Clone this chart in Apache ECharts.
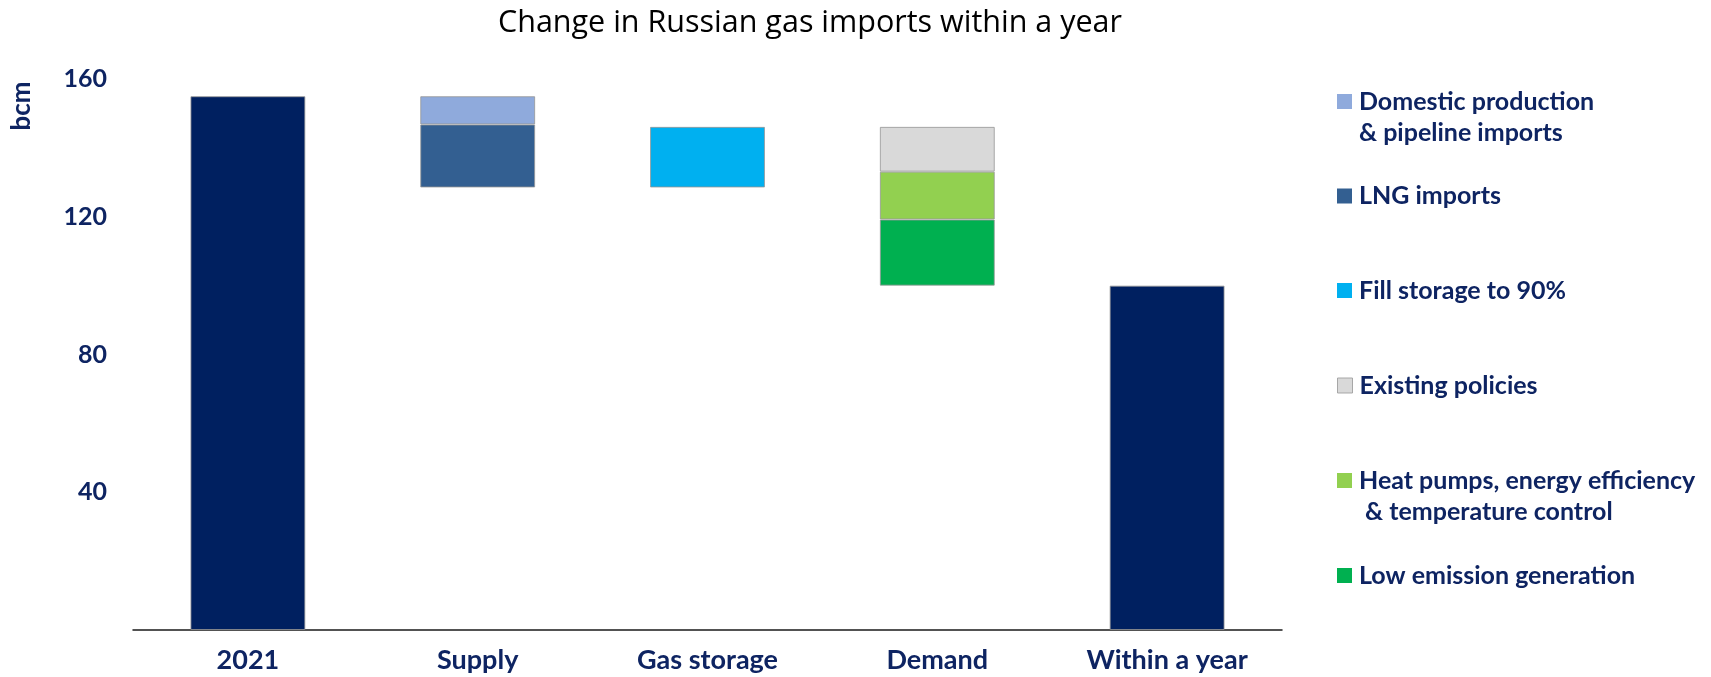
<!DOCTYPE html>
<html>
<head>
<meta charset="utf-8">
<script src="https://cdn.jsdelivr.net/npm/echarts@6/dist/echarts.min.js"></script>
<style>
  html, body { margin: 0; padding: 0; background: #fff; }
  #chart { width: 1711px; height: 677px; }
</style>
</head>
<body>
<div id="chart"></div>
<script>
const categories = ['2021', 'Supply', 'Gas storage', 'Demand', 'Within a year'];
const totals      = [155, '-', '-', '-', 100];
const bases       = ['-', 128.5, 128.5, 100, '-'];
const lngImports  = ['-', 18.3, '-', '-', '-'];
const domestic    = ['-', 8.2, '-', '-', '-'];
const fillStorage = ['-', '-', 17.6, '-', '-'];
const lowEmission = ['-', '-', '-', 19.2, '-'];
const heatPumps   = ['-', '-', '-', 13.9, '-'];
const existing    = ['-', '-', '-', 13.0, '-'];
const yTicks = { min: 0, max: 160, interval: 40 };

const NAVY = '#0e2462';
const FONT = 'Lato';
const names = {
  domestic: 'Domestic production\n& pipeline imports',
  lng: 'LNG imports',
  storage: 'Fill storage to 90%',
  existing: 'Existing policies',
  heat: 'Heat pumps, energy efficiency\n & temperature control',
  low: 'Low emission generation'
};
const colors = {
  total: '#002060', domestic: '#8faadc', lng: '#335f91', storage: '#00b0f0',
  existing: '#d9d9d9', heat: '#92d050', low: '#00b050'
};
const border = { borderColor: 'rgba(150,150,150,0.8)', borderWidth: 1 };

function barSeries(name, data, color) {
  return {
    name, type: 'bar', stack: 'w', data, barWidth: '50%',
    itemStyle: Object.assign({ color }, border),
    emphasis: { disabled: true }
  };
}

const legendItems = [
  { key: 'domestic', center: 101.5 },
  { key: 'lng', center: 196 },
  { key: 'storage', center: 290.5 },
  { key: 'existing', center: 385.5 },
  { key: 'heat', center: 480.5 },
  { key: 'low', center: 575.5 }
];
const LH = 31;
const legends = legendItems.map(it => {
  const nm = names[it.key];
  const multi = nm.indexOf('\n') >= 0;
  return {
    data: [nm], orient: 'vertical', left: 1337,
    top: multi ? it.center - 1.5 * LH : it.center - LH / 2,
    padding: 0, itemWidth: 15, itemHeight: 15, itemGap: 0,
    icon: 'rect', selectedMode: false,
    formatter: n => (n.indexOf('\n') >= 0 ? '\n' + n : n),
    itemStyle: { borderColor: 'rgba(160,160,160,0.9)', borderWidth: it.key === 'existing' ? 1 : 0 },
    textStyle: { color: NAVY, fontFamily: FONT, fontWeight: 'bold', fontSize: 25, lineHeight: LH, padding: [0, 0, 0, 2] }
  };
});

const chart = echarts.init(document.getElementById('chart'), null, { renderer: 'canvas' });
chart.setOption({
  animation: false,
  backgroundColor: '#ffffff',
  title: {
    text: 'Change in Russian gas imports within a year',
    left: 805, top: 3, textAlign: 'center',
    textStyle: { fontFamily: 'Open Sans', fontWeight: 'normal', fontSize: 30.5, color: '#000' }
  },
  legend: legends,
  grid: { left: 133, right: 429, top: 79, bottom: 47, containLabel: false },
  xAxis: {
    type: 'category', data: categories,
    axisLine: { lineStyle: { color: '#1a1a1a', width: 1.5 } },
    axisTick: { show: false },
    axisLabel: { color: NAVY, fontFamily: FONT, fontWeight: 'bold', fontSize: 27, margin: 17 }
  },
  yAxis: {
    type: 'value', min: yTicks.min, max: yTicks.max, interval: yTicks.interval,
    axisLine: { show: false }, axisTick: { show: false }, splitLine: { show: false },
    axisLabel: {
      color: NAVY, fontFamily: FONT, fontWeight: 'bold', fontSize: 25, margin: 26,
      formatter: v => (v === 0 ? '' : String(v))
    }
  },
  graphic: [{
    type: 'group', x: 22, y: 106, rotation: Math.PI / 2,
    children: [{
      type: 'text', x: 0, y: 0,
      style: { text: 'bcm', fill: NAVY, font: 'bold 26px Lato', textAlign: 'center', textVerticalAlign: 'middle', align: 'center', verticalAlign: 'middle' }
    }]
  }],
  series: [
    {
      name: 'base', type: 'bar', stack: 'w', data: bases, barWidth: '50%',
      itemStyle: { color: 'transparent' }, emphasis: { disabled: true }, silent: true
    },
    barSeries('Total', totals, colors.total),
    barSeries(names.lng, lngImports, colors.lng),
    barSeries(names.domestic, domestic, colors.domestic),
    barSeries(names.storage, fillStorage, colors.storage),
    barSeries(names.low, lowEmission, colors.low),
    barSeries(names.heat, heatPumps, colors.heat),
    barSeries(names.existing, existing, colors.existing)
  ]
});
</script>
</body>
</html>
